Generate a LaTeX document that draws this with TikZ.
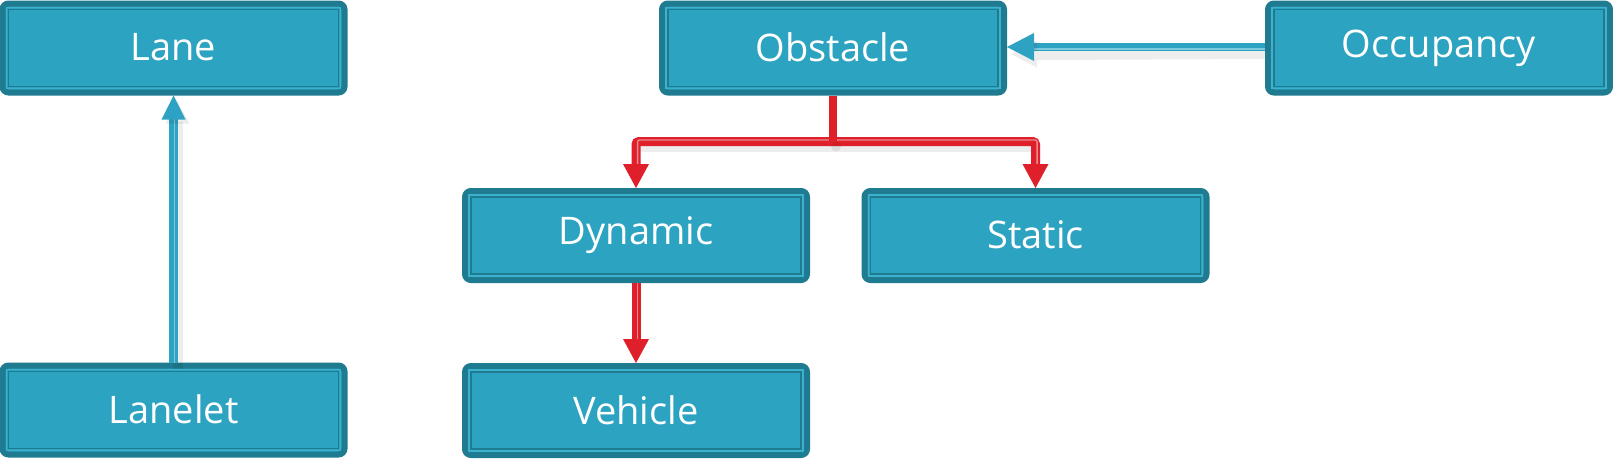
\documentclass[tikz,border=0pt]{standalone}
\usepackage{fontspec}
\setmainfont{Open Sans}
\definecolor{boxfill}{HTML}{2CA3C0}
\definecolor{boxdark}{HTML}{1F7B90}
\definecolor{boxlight}{HTML}{3DB2CE}
\definecolor{arrowblue}{HTML}{2EA2C2}
\definecolor{bluestripe}{HTML}{7CC8DC}
\definecolor{arrowred}{HTML}{DF1F2A}
\definecolor{redstripe}{HTML}{EE8A8F}
\tikzset{
  obox/.style={draw=boxdark, fill=boxfill, line width=6pt, rounded corners=6pt,
    minimum width=342pt, minimum height=89pt, inner sep=0pt, outer sep=3pt,
    text=white, font=\fontsize{38}{42}\selectfont},
  innerlight/.style={draw=boxlight, line width=1.6pt},
  innerdark/.style={draw=boxdark, line width=1.4pt},
  blueshaft/.style={draw=arrowblue, line width=8.5pt},
  bluestr/.style={draw=bluestripe, line width=1.4pt},
  redshaft/.style={draw=arrowred, line width=9pt, rounded corners=3pt},
  redstr/.style={draw=redstripe, line width=1.3pt, rounded corners=2pt},
  redsolid/.style={draw=arrowred, line width=7.5pt},
  shadowline/.style={draw=black, opacity=0.07, line width=10pt},
  shadowfill/.style={fill=black, opacity=0.07},
}
\begin{document}
\begin{tikzpicture}[x=1pt,y=-1pt]
\useasboundingbox (0,0) rectangle (1613,458);

\node[obox] (lane)      at (173.5,48)   {\raisebox{1.5pt}{Lane}};
\node[obox] (lanelet)   at (173.5,410)  {\raisebox{1.5pt}{Lanelet}};
\node[obox] (obstacle)  at (833,48)     {\raisebox{1.5pt}{Obstacle}};
\node[obox] (occupancy) at (1439,48)    {\raisebox{1.5pt}{Occupancy}};
\node[obox] (dynamic)   at (636,235.5)  {\raisebox{1.5pt}{Dynamic}};
\node[obox] (static)    at (1035.5,235.5) {\raisebox{1.5pt}{Static}};
\node[obox] (vehicle)   at (636,410.5)  {\raisebox{1.5pt}{Vehicle}};

\foreach \n in {lane,lanelet,obstacle,occupancy,dynamic,static,vehicle}{
  \draw[innerlight] ([shift={(7pt,-7pt)}]\n.north west) rectangle ([shift={(-7pt,7pt)}]\n.south east);
  \draw[innerdark] ([shift={(9pt,-9pt)}]\n.north west) rectangle ([shift={(-9pt,9pt)}]\n.south east);
}

% Lanelet -> Lane
\draw[shadowline] ([shift={(4pt,-6pt)}]lanelet.north) -- ([shift={(4pt,-26pt)}]lane.south);
\draw[blueshaft] (lanelet.north) -- ([yshift=-20pt]lane.south);
\draw[bluestr] ([xshift=1.2pt]lanelet.north) -- ([shift={(1.2pt,-20pt)}]lane.south);
\fill[shadowfill] ([shift={(4pt,-6pt)}]lane.south) -- ++(-12pt,-22pt) -- ++(24pt,0pt) -- cycle;
\fill[arrowblue] (lane.south) -- ++(-12pt,-24pt) -- ++(24pt,0pt) -- cycle;

% Occupancy -> Obstacle
\draw[shadowline] ([shift={(0pt,-6pt)}]occupancy.west) -- ([shift={(30pt,-7pt)}]obstacle.east);
\draw[blueshaft] ([yshift=1pt]occupancy.west) -- ([shift={(24pt,1pt)}]obstacle.east);
\draw[bluestr] ([yshift=-0.8pt]occupancy.west) -- ([shift={(24pt,-0.8pt)}]obstacle.east);
\fill[shadowfill] ([shift={(4pt,-6pt)}]obstacle.east) -- ++(26pt,13.5pt) -- ++(0pt,-27pt) -- cycle;
\fill[arrowblue] ([yshift=1pt]obstacle.east) -- ++(27pt,14pt) -- ++(0pt,-28pt) -- cycle;

% Obstacle -> Dynamic, Static
\path (obstacle.south) ++(0pt,-46pt) coordinate (split);
\draw[shadowline] ([shift={(3pt,-5pt)}]dynamic.north |- split) -- ([shift={(3pt,-5pt)}]static.north |- split);
\draw[redshaft] ([yshift=20pt]dynamic.north) -- (dynamic.north |- split) -- (static.north |- split) -- ([yshift=20pt]static.north);
\draw[redstr] ([shift={(1.6pt,20pt)}]dynamic.north) -- ([shift={(1.6pt,1.6pt)}]dynamic.north |- split) -- ([shift={(1.6pt,1.6pt)}]static.north |- split) -- ([shift={(1.6pt,20pt)}]static.north);
\draw[redsolid] (obstacle.south) -- ([yshift=-3pt]split);
\fill[shadowfill] ([shift={(3pt,-5pt)}]split) circle (5pt);
\fill[arrowred] (dynamic.north) -- ++(-13pt,24pt) -- ++(26pt,0pt) -- cycle;
\fill[arrowred] (static.north) -- ++(-13pt,24pt) -- ++(26pt,0pt) -- cycle;

% Dynamic -> Vehicle
\draw[redshaft] (dynamic.south) -- ([yshift=20pt]vehicle.north);
\draw[redstr] ([xshift=1.6pt]dynamic.south) -- ([shift={(1.6pt,20pt)}]vehicle.north);
\fill[arrowred] (vehicle.north) -- ++(-13pt,24pt) -- ++(26pt,0pt) -- cycle;
\end{tikzpicture}
\end{document}
